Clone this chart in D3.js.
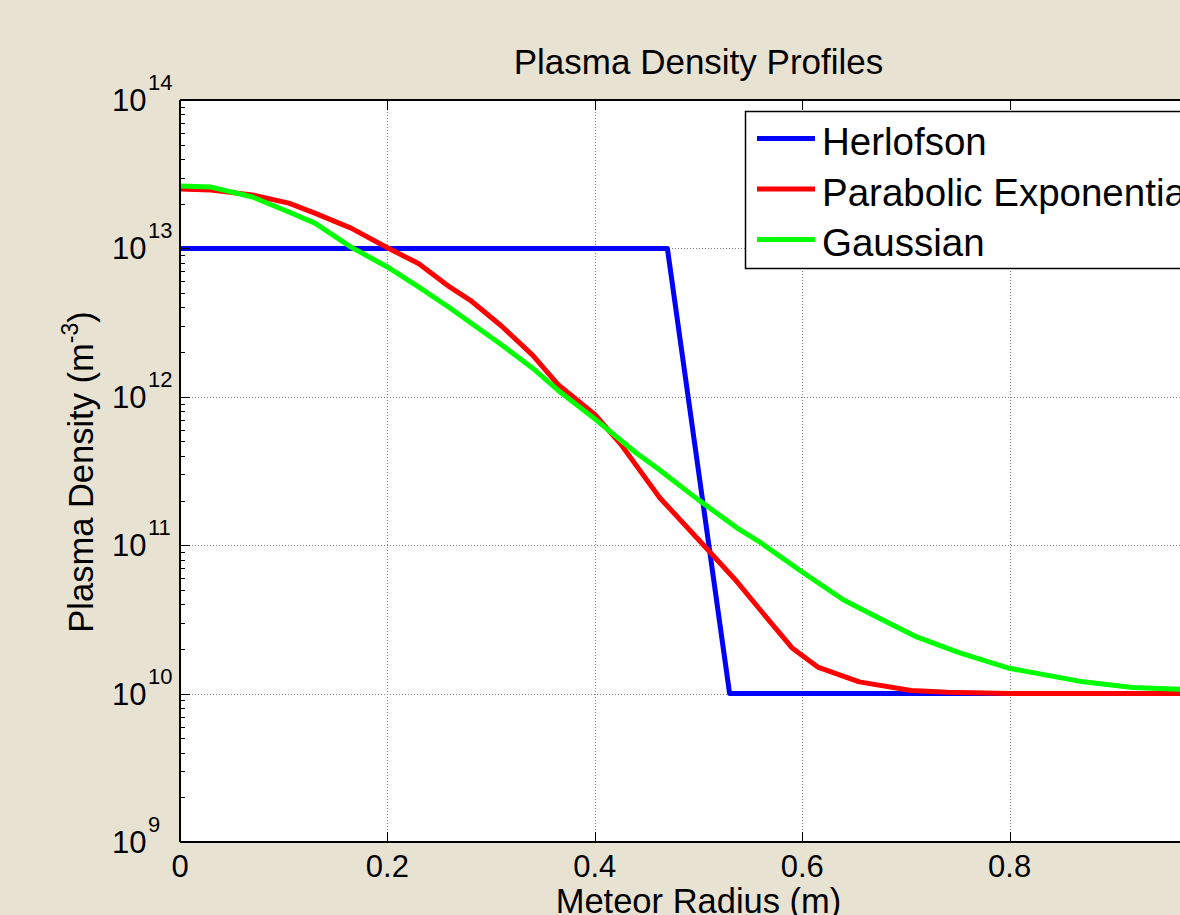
<!DOCTYPE html>
<html>
<head>
<meta charset="utf-8">
<script src="https://cdn.jsdelivr.net/npm/d3@7"></script>
<style>
  html, body { margin: 0; padding: 0; background: #e8e2d3; overflow: hidden; }
  svg { display: block; font-family: "Liberation Sans", Arial, sans-serif; }
</style>
</head>
<body>
<svg id="Chart"></svg>
<script>
// values
const radiusHerlofson = [0, 0.47, 0.53, 1.0]
const densityHerlofson = [1e13, 1e13, 1e10, 1e10]

const radiusParabolic = [0, 0.03, 0.07, 0.105, 0.13, 0.165, 0.2, 0.23, 0.26, 0.28, 0.31, 0.34, 0.365, 0.4, 0.425, 0.4626, 0.505, 0.535, 0.56, 0.59, 0.615, 0.655, 0.705, 0.74, 0.8, 0.9, 1.0]
const densityParabolic = [2.51e13, 2.47e13, 2.29e13, 2.02e13, 1.73e13, 1.37e13, 1.01e13, 7.9e12, 5.5e12, 4.47e12, 3.0e12, 1.91e12, 1.2e12, 7.6e11, 4.8e11, 2.09e11, 1.0e11, 5.9e10, 3.63e10, 2.04e10, 1.51e10, 1.2e10, 1.05e10, 1.02e10, 1.0e10, 1.0e10, 1.0e10]

const radiusGaussian = [0, 0.03, 0.07, 0.105, 0.13, 0.165, 0.2, 0.23, 0.26, 0.31, 0.34, 0.365, 0.4, 0.44, 0.46, 0.475, 0.5, 0.537, 0.56, 0.6, 0.64, 0.672, 0.711, 0.752, 0.8, 0.871, 0.919, 0.964, 1.0]
const densityGaussian = [2.63e13, 2.59e13, 2.22e13, 1.76e13, 1.48e13, 1.02e13, 7.5e12, 5.5e12, 3.98e12, 2.24e12, 1.56e12, 1.1e12, 7.1e11, 4.18e11, 3.31e11, 2.75e11, 2.02e11, 1.31e11, 1.04e11, 6.6e10, 4.27e10, 3.28e10, 2.4e10, 1.88e10, 1.48e10, 1.2e10, 1.1e10, 1.07e10, 1.05e10]

const seriesNames = ["Herlofson", "Parabolic Exponential", "Gaussian"]
const seriesColors = ["#0000ff", "#ff0000", "#00ff00"]

const xTicks = [0, 0.2, 0.4, 0.6, 0.8, 1]
const xTickLabels = ["0", "0.2", "0.4", "0.6", "0.8"]
const yTickExponents = [9, 10, 11, 12, 13, 14]

let config = {}

function initConfig() {
    let width = 1180
    let height = 915
    let left = 180, right = 1217, top = 100, bottom = 842
    let container = d3.select("#Chart")
        .attr("width", width)
        .attr("height", height)
    let x = d3.scaleLinear().domain([0, 1]).range([left, right])
    let y = d3.scaleLog().domain([1e9, 1e14]).range([bottom, top])
    config = {width, height, left, right, top, bottom, container, x, y}
}

function drawFrame() {
    let {container, left, right, top, bottom, x, y} = config

    container.append("rect")
        .attr("x", left).attr("y", top)
        .attr("width", right - left).attr("height", bottom - top)
        .attr("fill", "#ffffff")

    // dotted grid
    let grid = container.append("g")
        .attr("stroke", "#7f7f7f")
        .attr("stroke-width", 1)
        .attr("stroke-dasharray", "1,2")
    grid.selectAll(".gx").data(xTicks.slice(1, -1))
        .enter().append("line")
        .attr("x1", d => Math.round(x(d)) + 0.5).attr("x2", d => Math.round(x(d)) + 0.5)
        .attr("y1", top).attr("y2", bottom)
    grid.selectAll(".gy").data(yTickExponents.slice(1, -1))
        .enter().append("line")
        .attr("y1", d => Math.round(y(Math.pow(10, d))) + 0.5).attr("y2", d => Math.round(y(Math.pow(10, d))) + 0.5)
        .attr("x1", left).attr("x2", right)
}

function drawAxes() {
    let {container, left, right, top, bottom, x, y} = config
    let axes = container.append("g")
        .attr("stroke", "#000")
        .attr("stroke-width", 1)

    // x ticks, bottom and top
    xTicks.forEach(t => {
        let px = Math.round(x(t)) + 0.5
        axes.append("line").attr("x1", px).attr("x2", px).attr("y1", bottom).attr("y2", bottom - 10)
        axes.append("line").attr("x1", px).attr("x2", px).attr("y1", top).attr("y2", top + 10)
    })

    // y major + minor ticks on the left
    yTickExponents.forEach(e => {
        let py = Math.round(y(Math.pow(10, e))) + 0.5
        axes.append("line").attr("x1", left).attr("x2", left + 10).attr("y1", py).attr("y2", py)
        if (e < 14) {
            for (let m = 2; m <= 9; m++) {
                let my = Math.round(y(m * Math.pow(10, e))) + 0.5
                axes.append("line").attr("x1", left).attr("x2", left + 5).attr("y1", my).attr("y2", my)
            }
        }
    })

    // box lines
    axes.append("line").attr("x1", left).attr("x2", right).attr("y1", bottom).attr("y2", bottom).attr("stroke-width", 2)
    axes.append("line").attr("x1", left).attr("x2", right).attr("y1", top).attr("y2", top).attr("stroke-width", 2)
    axes.append("line").attr("x1", left).attr("x2", left).attr("y1", top).attr("y2", bottom).attr("stroke-width", 2)
    axes.append("line").attr("x1", right).attr("x2", right).attr("y1", top).attr("y2", bottom).attr("stroke-width", 2)

    // x tick labels (the one at 1 falls outside the picture)
    container.selectAll(".xlab").data(xTickLabels)
        .enter().append("text")
        .attr("x", (d, i) => x(xTicks[i]))
        .attr("y", 877)
        .attr("text-anchor", "middle")
        .attr("font-size", "31px")
        .attr("fill", "#000")
        .text(d => d)

    // y tick labels: 10 with exponent
    let ylab = container.selectAll(".ylab").data(yTickExponents)
        .enter().append("g")
    ylab.append("text")
        .attr("x", 112)
        .attr("y", d => y(Math.pow(10, d)) + 11)
        .attr("font-size", "31px")
        .attr("fill", "#000")
        .text("10")
    ylab.append("text")
        .attr("x", 148)
        .attr("y", d => y(Math.pow(10, d)) - 10)
        .attr("font-size", "22px")
        .attr("fill", "#000")
        .text(d => d)
}

function drawSeries() {
    let {container, left, right, top, bottom, x, y} = config
    container.append("clipPath").attr("id", "plotClip")
        .append("rect")
        .attr("x", left).attr("y", top)
        .attr("width", right - left).attr("height", bottom - top)

    let series = [
        d3.zip(radiusHerlofson, densityHerlofson),
        d3.zip(radiusParabolic, densityParabolic),
        d3.zip(radiusGaussian, densityGaussian)
    ]
    let line = d3.line().x(d => x(d[0])).y(d => y(d[1]))

    container.append("g").attr("clip-path", "url(#plotClip)")
        .selectAll("path").data(series)
        .enter().append("path")
        .attr("d", line)
        .attr("fill", "none")
        .attr("stroke", (d, i) => seriesColors[i])
        .attr("stroke-width", 5)
        .attr("stroke-linejoin", "round")
}

function drawLegend() {
    let {container, right} = config
    let legend = container.append("g")
    legend.append("rect")
        .attr("x", 745.5).attr("y", 111.5)
        .attr("width", right - 745).attr("height", 157)
        .attr("fill", "#fff")
        .attr("stroke", "#000")
        .attr("stroke-width", 1.5)
    let rows = legend.selectAll(".row").data(seriesNames)
        .enter().append("g")
        .attr("transform", (d, i) => `translate(0, ${i * 50.5})`)
    rows.append("line")
        .attr("x1", 757).attr("x2", 815)
        .attr("y1", 138.5).attr("y2", 138.5)
        .attr("stroke", (d, i) => seriesColors[i])
        .attr("stroke-width", 5)
    rows.append("text")
        .attr("x", 822).attr("y", 155)
        .attr("font-size", "38.5px")
        .attr("fill", "#000")
        .text(d => d)
}

function drawText() {
    let {container, left, right} = config
    container.append("text")
        .attr("x", (left + right) / 2)
        .attr("y", 74)
        .attr("text-anchor", "middle")
        .attr("font-size", "35px")
        .attr("fill", "#000")
        .text("Plasma Density Profiles")

    container.append("text")
        .attr("x", (left + right) / 2)
        .attr("y", 913)
        .attr("text-anchor", "middle")
        .attr("font-size", "34.5px")
        .attr("fill", "#000")
        .text("Meteor Radius (m)")

    let ylabel = container.append("text")
        .attr("transform", "translate(93, 472) rotate(-90)")
        .attr("text-anchor", "middle")
        .attr("font-size", "34.5px")
        .attr("fill", "#000")
    ylabel.append("tspan").text("Plasma Density (m")
    ylabel.append("tspan").attr("font-size", "23px").attr("dy", -15).text("-3")
    ylabel.append("tspan").attr("dy", 15).text(")")
}

function showChart() {
    initConfig()
    drawFrame()
    drawSeries()
    drawAxes()
    drawLegend()
    drawText()
}

showChart()
</script>
</body>
</html>
